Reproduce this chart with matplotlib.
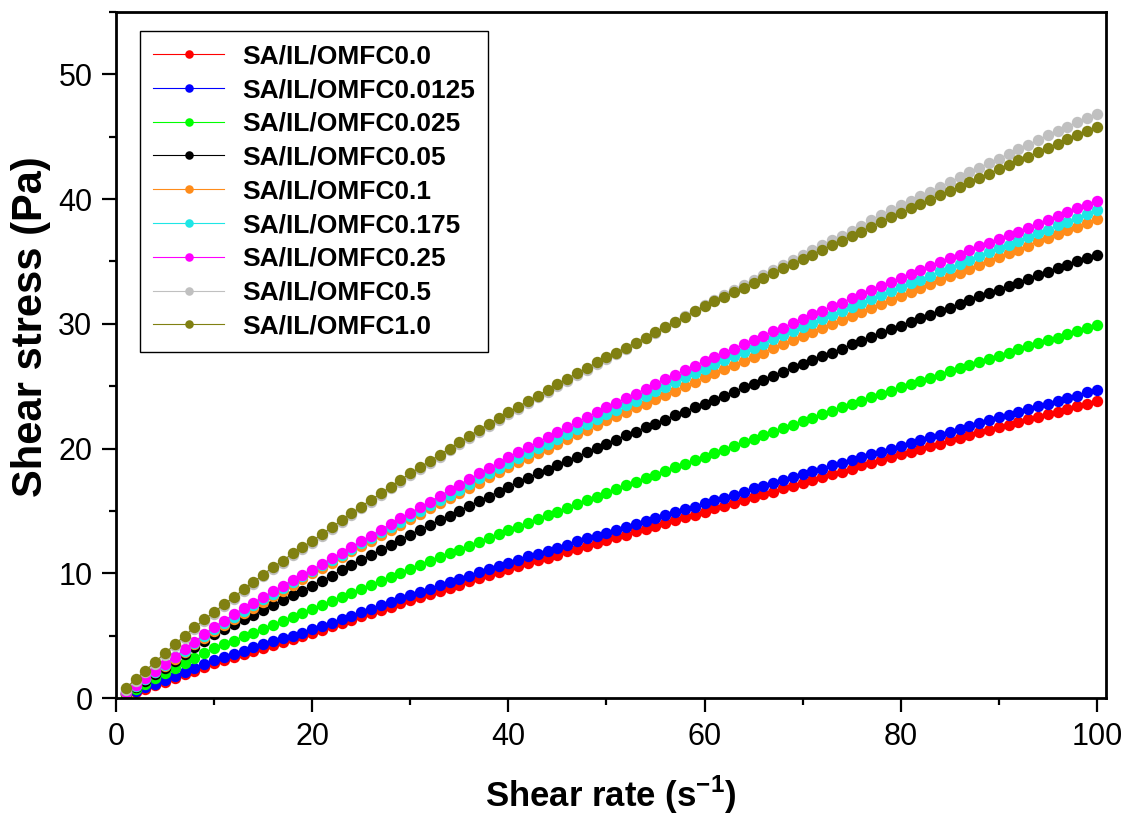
import matplotlib.pyplot as plt
from matplotlib.ticker import MultipleLocator
import numpy as np

plt.rcParams['font.family'] = ['Liberation Sans', 'DejaVu Sans']
plt.rcParams['mathtext.fontset'] = 'custom'
plt.rcParams['mathtext.rm'] = 'Liberation Sans'
plt.rcParams['mathtext.bf'] = 'Liberation Sans:bold'

# shear rate (1/s)
shear_rate = list(range(1, 101))

labels = ['SA/IL/OMFC0.0', 'SA/IL/OMFC0.0125', 'SA/IL/OMFC0.025', 'SA/IL/OMFC0.05',
          'SA/IL/OMFC0.1', 'SA/IL/OMFC0.175', 'SA/IL/OMFC0.25', 'SA/IL/OMFC0.5',
          'SA/IL/OMFC1.0']
colors = ['#ff0000', '#0000ff', '#00ff00', '#000000', '#ff8c1a', '#1ee6e6',
          '#ff00ff', '#c0c0c0', '#808012']

# shear stress (Pa) for each sample
omfc_0 = [0.25, 0.5, 0.75, 1.05, 1.3, 1.6, 1.9, 2.2, 2.5, 2.8, 3.05, 3.3, 3.5, 3.75, 4.0, 4.25, 4.5, 4.7, 4.95, 5.2,
          5.45, 5.75, 6.0, 6.25, 6.55, 6.8, 7.05, 7.3, 7.6, 7.85, 8.1, 8.35, 8.6, 8.85, 9.1, 9.35, 9.6, 9.85, 10.1, 10.35,
          10.6, 10.8, 11.05, 11.25, 11.5, 11.75, 11.95, 12.2, 12.4, 12.65, 12.9, 13.1, 13.35, 13.55, 13.8, 14.05, 14.25, 14.5, 14.7, 14.95,
          15.2, 15.4, 15.65, 15.85, 16.1, 16.35, 16.55, 16.8, 17.0, 17.25, 17.5, 17.7, 17.95, 18.15, 18.4, 18.65, 18.85, 19.1, 19.3, 19.55,
          19.75, 20.0, 20.2, 20.4, 20.65, 20.85, 21.05, 21.3, 21.5, 21.7, 21.9, 22.1, 22.35, 22.55, 22.75, 22.95, 23.15, 23.4, 23.6, 23.8]
omfc_00125 = [0.3, 0.6, 0.9, 1.15, 1.45, 1.75, 2.1, 2.4, 2.75, 3.05, 3.3, 3.55, 3.8, 4.05, 4.3, 4.55, 4.8, 5.0, 5.25, 5.5,
              5.8, 6.05, 6.35, 6.6, 6.9, 7.15, 7.45, 7.7, 8.0, 8.25, 8.5, 8.75, 9.05, 9.3, 9.55, 9.8, 10.1, 10.35, 10.6, 10.85,
              11.1, 11.35, 11.55, 11.8, 12.05, 12.3, 12.55, 12.8, 13.0, 13.25, 13.5, 13.7, 13.95, 14.2, 14.4, 14.65, 14.9, 15.15, 15.35, 15.6,
              15.85, 16.05, 16.3, 16.55, 16.8, 17.0, 17.25, 17.5, 17.7, 17.95, 18.2, 18.4, 18.65, 18.85, 19.1, 19.3, 19.55, 19.75, 20.0, 20.2,
              20.45, 20.65, 20.9, 21.1, 21.35, 21.6, 21.8, 22.05, 22.25, 22.5, 22.7, 22.95, 23.15, 23.4, 23.6, 23.8, 24.05, 24.25, 24.5, 24.7]
omfc_0025 = [0.35, 0.75, 1.15, 1.6, 2.0, 2.4, 2.8, 3.2, 3.6, 4.0, 4.3, 4.6, 4.95, 5.25, 5.55, 5.85, 6.15, 6.5, 6.8, 7.1,
             7.45, 7.75, 8.1, 8.4, 8.7, 9.05, 9.4, 9.7, 10.0, 10.35, 10.65, 10.95, 11.3, 11.6, 11.9, 12.2, 12.5, 12.85, 13.15, 13.45,
             13.75, 14.05, 14.35, 14.65, 14.95, 15.25, 15.55, 15.85, 16.15, 16.45, 16.75, 17.05, 17.3, 17.6, 17.9, 18.2, 18.5, 18.75, 19.05, 19.35,
             19.65, 19.9, 20.2, 20.5, 20.8, 21.05, 21.35, 21.65, 21.9, 22.2, 22.45, 22.75, 23.0, 23.3, 23.55, 23.85, 24.1, 24.35, 24.65, 24.9,
             25.15, 25.4, 25.65, 25.9, 26.2, 26.45, 26.7, 26.95, 27.2, 27.45, 27.7, 27.95, 28.2, 28.45, 28.7, 28.9, 29.15, 29.4, 29.65, 29.9]
omfc_005 = [0.4, 0.9, 1.4, 1.9, 2.4, 2.95, 3.5, 4.05, 4.6, 5.1, 5.5, 5.9, 6.3, 6.65, 7.05, 7.45, 7.85, 8.25, 8.6, 9.0,
            9.4, 9.8, 10.25, 10.65, 11.05, 11.45, 11.85, 12.3, 12.7, 13.1, 13.5, 13.85, 14.25, 14.6, 15.0, 15.4, 15.8, 16.15, 16.55, 16.95,
            17.3, 17.65, 18.0, 18.3, 18.65, 19.0, 19.35, 19.7, 20.05, 20.4, 20.7, 21.05, 21.35, 21.7, 22.0, 22.3, 22.65, 22.95, 23.3, 23.6,
            23.9, 24.25, 24.55, 24.9, 25.2, 25.5, 25.85, 26.15, 26.5, 26.8, 27.1, 27.4, 27.7, 28.0, 28.35, 28.65, 28.95, 29.25, 29.55, 29.85,
            30.15, 30.45, 30.7, 31.0, 31.3, 31.6, 31.9, 32.2, 32.45, 32.75, 33.05, 33.3, 33.6, 33.9, 34.15, 34.45, 34.75, 35.0, 35.3, 35.55]
omfc_01 = [0.4, 0.95, 1.5, 2.05, 2.6, 3.15, 3.7, 4.3, 4.85, 5.4, 5.85, 6.3, 6.8, 7.25, 7.7, 8.15, 8.6, 9.1, 9.55, 10.0,
           10.45, 10.85, 11.3, 11.75, 12.2, 12.6, 13.05, 13.5, 13.9, 14.35, 14.75, 15.2, 15.6, 16.0, 16.45, 16.85, 17.25, 17.7, 18.1, 18.5,
           18.9, 19.25, 19.65, 20.0, 20.4, 20.75, 21.15, 21.5, 21.9, 22.25, 22.6, 22.95, 23.3, 23.6, 23.95, 24.3, 24.65, 25.0, 25.35, 25.7,
           26.05, 26.35, 26.7, 27.05, 27.35, 27.7, 28.05, 28.4, 28.7, 29.05, 29.35, 29.7, 30.0, 30.3, 30.65, 30.95, 31.3, 31.6, 31.9, 32.25,
           32.55, 32.85, 33.2, 33.5, 33.8, 34.1, 34.4, 34.75, 35.05, 35.35, 35.65, 35.95, 36.25, 36.6, 36.9, 37.2, 37.5, 37.8, 38.1, 38.4]
omfc_0175 = [0.45, 1.0, 1.55, 2.1, 2.65, 3.25, 3.8, 4.4, 4.95, 5.55, 6.05, 6.5, 7.0, 7.45, 7.9, 8.35, 8.8, 9.3, 9.75, 10.2,
             10.65, 11.1, 11.5, 11.95, 12.4, 12.85, 13.3, 13.7, 14.15, 14.6, 15.0, 15.45, 15.85, 16.3, 16.7, 17.15, 17.6, 18.0, 18.45, 18.85,
             19.25, 19.65, 20.05, 20.4, 20.8, 21.2, 21.6, 22.0, 22.35, 22.75, 23.1, 23.5, 23.85, 24.2, 24.6, 24.95, 25.3, 25.7, 26.05, 26.4,
             26.75, 27.1, 27.4, 27.75, 28.1, 28.4, 28.75, 29.1, 29.4, 29.75, 30.05, 30.4, 30.7, 31.0, 31.35, 31.65, 31.95, 32.3, 32.6, 32.95,
             33.25, 33.55, 33.85, 34.2, 34.5, 34.8, 35.1, 35.45, 35.75, 36.05, 36.35, 36.65, 36.95, 37.25, 37.55, 37.9, 38.2, 38.5, 38.8, 39.1]
omfc_025 = [0.45, 1.05, 1.6, 2.15, 2.7, 3.3, 3.9, 4.5, 5.1, 5.7, 6.2, 6.7, 7.2, 7.65, 8.1, 8.55, 9.0, 9.45, 9.85, 10.3,
            10.75, 11.2, 11.65, 12.1, 12.55, 13.0, 13.5, 13.95, 14.4, 14.85, 15.3, 15.75, 16.2, 16.65, 17.1, 17.55, 18.0, 18.45, 18.85, 19.3,
            19.7, 20.1, 20.5, 20.9, 21.3, 21.7, 22.1, 22.5, 22.9, 23.3, 23.65, 24.05, 24.4, 24.8, 25.15, 25.55, 25.9, 26.3, 26.65, 27.0,
            27.35, 27.7, 28.0, 28.35, 28.7, 29.05, 29.4, 29.7, 30.05, 30.4, 30.75, 31.05, 31.4, 31.7, 32.05, 32.4, 32.7, 33.05, 33.35, 33.7,
            34.0, 34.3, 34.65, 34.95, 35.25, 35.55, 35.9, 36.2, 36.5, 36.8, 37.1, 37.4, 37.7, 38.0, 38.3, 38.65, 38.95, 39.25, 39.55, 39.85]
omfc_05 = [0.65, 1.4, 2.05, 2.75, 3.45, 4.15, 4.85, 5.5, 6.15, 6.75, 7.35, 7.95, 8.55, 9.15, 9.75, 10.35, 10.85, 11.45, 11.95, 12.45,
           13.0, 13.55, 14.1, 14.65, 15.2, 15.75, 16.25, 16.8, 17.35, 17.85, 18.35, 18.85, 19.35, 19.85, 20.35, 20.85, 21.35, 21.8, 22.3, 22.75,
           23.2, 23.65, 24.1, 24.55, 25.0, 25.45, 25.9, 26.3, 26.75, 27.15, 27.6, 28.0, 28.45, 28.85, 29.3, 29.75, 30.15, 30.6, 31.05, 31.5,
           31.9, 32.3, 32.7, 33.1, 33.5, 33.9, 34.3, 34.7, 35.1, 35.5, 35.9, 36.3, 36.7, 37.05, 37.45, 37.85, 38.3, 38.7, 39.1, 39.5,
           39.85, 40.25, 40.6, 41.0, 41.35, 41.75, 42.15, 42.5, 42.9, 43.25, 43.6, 44.0, 44.35, 44.7, 45.1, 45.45, 45.8, 46.15, 46.5, 46.85]
omfc_10 = [0.77, 1.52, 2.19, 2.9, 3.6, 4.3, 5.0, 5.66, 6.3, 6.9, 7.5, 8.1, 8.7, 9.3, 9.9, 10.5, 11.0, 11.6, 12.1, 12.6,
           13.15, 13.7, 14.25, 14.8, 15.35, 15.9, 16.4, 16.95, 17.5, 18.0, 18.5, 19.0, 19.5, 20.0, 20.5, 21.0, 21.5, 21.95, 22.45, 22.9,
           23.35, 23.8, 24.25, 24.7, 25.15, 25.6, 26.05, 26.45, 26.9, 27.3, 27.7, 28.1, 28.5, 28.9, 29.35, 29.75, 30.15, 30.55, 31.0, 31.4,
           31.8, 32.15, 32.55, 32.9, 33.3, 33.7, 34.05, 34.45, 34.8, 35.2, 35.55, 35.95, 36.3, 36.65, 37.05, 37.4, 37.8, 38.15, 38.55, 38.9,
           39.25, 39.6, 39.95, 40.3, 40.65, 41.0, 41.35, 41.7, 42.05, 42.4, 42.75, 43.1, 43.4, 43.75, 44.1, 44.45, 44.8, 45.1, 45.45, 45.8]

series = [omfc_0, omfc_00125, omfc_0025, omfc_005, omfc_01, omfc_0175, omfc_025, omfc_05, omfc_10]

fig = plt.figure(figsize=(11.35, 8.16), dpi=100)
ax = fig.add_axes([0.1022, 0.1446, 0.872, 0.8407])

for y, c, lab in zip(series, colors, labels):
    ax.plot(shear_rate, y, '-o', color=c, lw=0.8, ms=8.2, mec=c, mew=0, label=lab)

ax.set_xlim(0, 100.9)
ax.set_ylim(0, 55)
ax.xaxis.set_major_locator(MultipleLocator(20))
ax.xaxis.set_minor_locator(MultipleLocator(10))
ax.yaxis.set_major_locator(MultipleLocator(10))
ax.yaxis.set_minor_locator(MultipleLocator(5))
ax.tick_params(which='major', direction='out', length=10, width=1.6, labelsize=22, pad=7)
ax.tick_params(which='minor', direction='out', length=5, width=1.6)
for s in ax.spines.values():
    s.set_linewidth(2.0)

ax.set_xlabel('Shear rate (s$^{\\mathbf{-1}}$)', fontsize=25, fontweight='bold', labelpad=16)
ax.set_ylabel('Shear stress (Pa)', fontsize=30, fontweight='bold')
ax.yaxis.set_label_coords(-0.066, 0.541)

leg = ax.legend(loc='upper left', bbox_to_anchor=(0.024, 0.972), borderaxespad=0,
                prop={'size': 19, 'weight': 'bold'}, handlelength=2.7, handletextpad=0.68,
                labelspacing=0.37, borderpad=0.5, markerscale=0.75, fancybox=False,
                framealpha=1)
leg.get_frame().set_edgecolor('black')
leg.get_frame().set_linewidth(1.0)

fig.savefig('out.png', dpi=100)
